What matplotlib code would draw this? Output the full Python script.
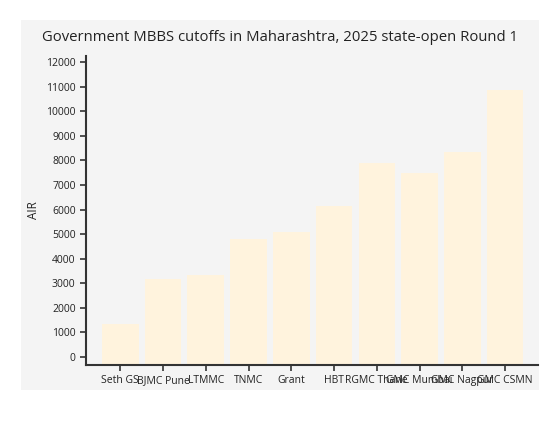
import numpy as np
import matplotlib.pyplot as plt
from matplotlib.patches import Rectangle

plt.rcParams['font.family'] = ['Open Sans', 'DejaVu Sans']

colleges = ["Seth GS", "BJMC Pune", "LTMMC", "TNMC", "Grant", "HBT",
            "RGMC Thane", "GMC Mumbai", "GMC Nagpur", "GMC CSMN"]
air = [1350, 3160, 3320, 4790, 5100, 6130, 7900, 7470, 8330, 10860]

y_lo = -330

fig = plt.figure(figsize=(5.6, 4.22), dpi=100, facecolor="white")
bg = Rectangle((0.0375, 0.0758), 0.925, 0.8768, transform=fig.transFigure,
               facecolor="#f4f4f4", edgecolor="none", zorder=-10)
fig.add_artist(bg)
ax = fig.add_axes([0.1536, 0.1351, 0.8071, 0.7322])
ax.set_zorder(1)
ax.set_facecolor("#f4f4f4")

x = np.arange(len(colleges))
ax.bar(x, np.array(air) - y_lo, bottom=y_lo, width=0.855, color="#fff3dd")

ax.set_xlim(-0.8, 9.77)
ax.set_ylim(y_lo, 12250)
ax.set_yticks(range(0, 12001, 1000))
ax.set_xticks(x)
ax.set_xticklabels(colleges, fontsize=7.5, color="#222222")
ax.tick_params(axis="y", labelsize=7.5, labelcolor="#222222", length=4, width=1.2, color="#333333")
ax.tick_params(axis="x", length=4, width=1.2, color="#333333")
for s in ["top", "right"]:
    ax.spines[s].set_visible(False)
for s in ["left", "bottom"]:
    ax.spines[s].set_linewidth(1.5)
    ax.spines[s].set_color("#333333")

ax.set_ylabel("AIR", fontsize=8.5, color="#222222")
fig.text(0.499, 0.912, "Government MBBS cutoffs in Maharashtra, 2025 state-open Round 1",
         ha="center", va="center", fontsize=10.7, color="#222222")

fig.savefig("out.png", dpi=100, facecolor="white")
